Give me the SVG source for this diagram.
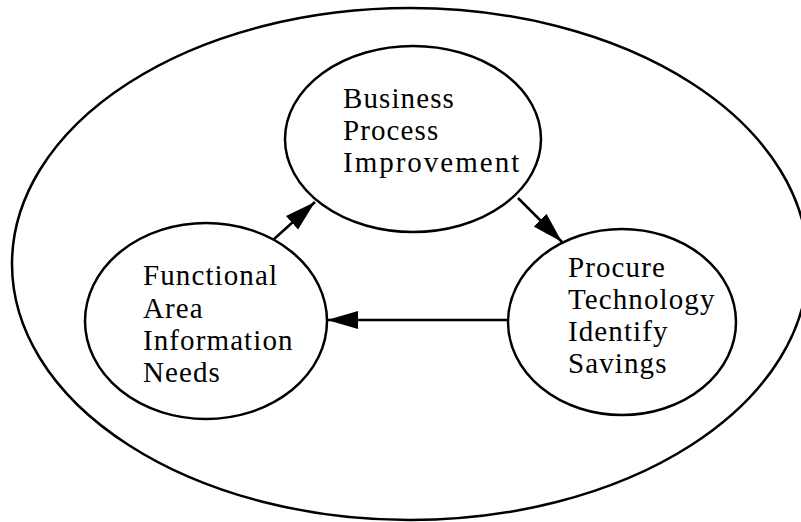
<svg xmlns="http://www.w3.org/2000/svg" width="801" height="522" viewBox="0 0 801 522">
<style>
.e{fill:none;stroke:#000;stroke-width:2.5}
.t{font-family:"Liberation Serif","Times New Roman",serif;font-size:29px;letter-spacing:1.1px;fill:#000}
.c{stroke:#000;stroke-width:2.5;fill:none}
</style>
<defs>
<marker id="ah" markerUnits="userSpaceOnUse" markerWidth="32" markerHeight="20" refX="31" refY="9" orient="auto" viewBox="0 0 32 18">
<path d="M0,0 L31,9 L0,18 Z" fill="#000"/>
</marker>
</defs>
<rect width="801" height="522" fill="#fff"/>
<g id="outer"><ellipse class="e" cx="410" cy="264" rx="398" ry="256"/></g>
<g id="bpi">
<ellipse class="e" cx="413" cy="139" rx="128" ry="93"/>
<text class="t"><tspan x="343" y="108">Business</tspan><tspan x="343" y="140">Process</tspan><tspan x="343" y="172" letter-spacing="2">Improvement</tspan></text>
</g>
<g id="fain">
<ellipse class="e" cx="206" cy="321" rx="121" ry="98"/>
<text class="t"><tspan x="143" y="285">Functional</tspan><tspan x="143" y="318">Area</tspan><tspan x="143" y="350">Information</tspan><tspan x="143" y="382">Needs</tspan></text>
</g>
<g id="pt">
<ellipse class="e" cx="622" cy="322" rx="114" ry="93"/>
<text class="t"><tspan x="568" y="277">Procure</tspan><tspan x="568" y="309">Technology</tspan><tspan x="568" y="341">Identify</tspan><tspan x="568" y="373">Savings</tspan></text>
</g>
<g id="connectors">
<line class="c" x1="273" y1="240" x2="315" y2="202" marker-end="url(#ah)"/>
<line class="c" x1="518" y1="198" x2="562" y2="242" marker-end="url(#ah)"/>
<line class="c" x1="508" y1="320" x2="327" y2="320" marker-end="url(#ah)"/>
</g>
</svg>
